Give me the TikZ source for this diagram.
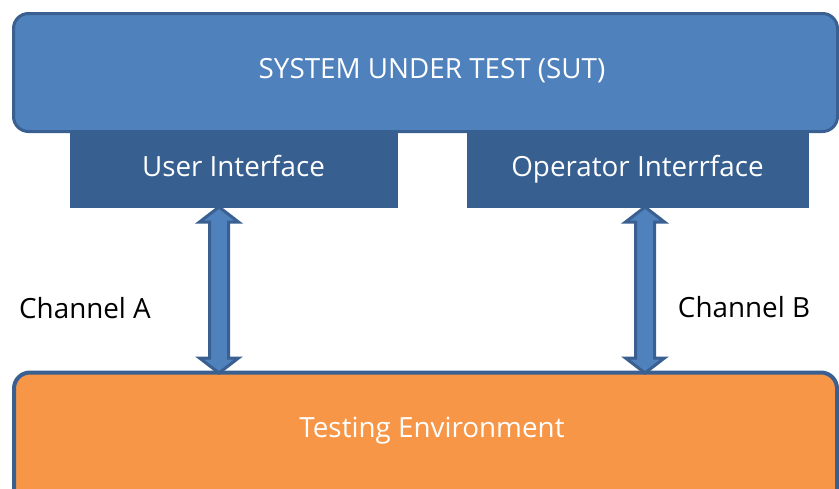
\documentclass[tikz,border=0pt]{standalone}
\usepackage{fontspec}
\setmainfont{Open Sans}
\usetikzlibrary{calc}
\definecolor{sutfill}{HTML}{4F81BD}
\definecolor{edgeblue}{HTML}{3A6091}
\definecolor{portfill}{HTML}{375F8F}
\definecolor{envfill}{HTML}{F79646}
\tikzset{
  sutbox/.style={draw=edgeblue, line width=3pt, fill=sutfill, rounded corners=15pt},
  envbox/.style={draw=edgeblue, line width=4pt, fill=envfill, rounded corners=16pt},
  portbox/.style={draw=portfill, line width=0.5pt, fill=portfill},
  boxtext/.style={text=white, font=\fontsize{27.8}{33}\selectfont, inner sep=0pt, anchor=base},
  plaintext/.style={text=black, font=\fontsize{27.8}{33}\selectfont, inner sep=0pt, anchor=base},
  chanarrow/.style={draw=edgeblue, line width=3pt, fill=sutfill, line join=miter},
}
% vertical double-headed block arrow between two named points
\newcommand{\chanlink}[2]{%
  \draw[chanarrow] (#1) -- ($(#1)+(19.5,15)$) -- ($(#1)+(9.5,15)$)
    -- ($(#2)+(9.5,-15)$) -- ($(#2)+(19.5,-15)$) -- (#2)
    -- ($(#2)+(-19.5,-15)$) -- ($(#2)+(-9.5,-15)$)
    -- ($(#1)+(-9.5,15)$) -- ($(#1)+(-19.5,15)$) -- cycle;}
\begin{document}
\begin{tikzpicture}[x=1pt,y=-1pt]
\useasboundingbox (0,0) rectangle (839,488);
\clip (0,0) rectangle (839,488);

% system under test
\draw[sutbox] (13.5,13.5) rectangle (837.5,131.5);
\node[boxtext] (sut) at (432,78) {SYSTEM UNDER TEST (SUT)};

% interfaces
\draw[portbox] (70,130) rectangle (397,207);
\node[boxtext] (ui) at (233.5,176) {User Interface};
\coordinate (uiB) at (219,207);
\draw[portbox] (467,130) rectangle (808,207);
\node[boxtext] (op) at (637.5,176) {Operator Interrface};
\coordinate (opB) at (645,207);

% testing environment
\draw[envbox] (14,372.5) rectangle (837,520);
\node[boxtext] (env) at (432,437) {Testing Environment};
\coordinate (envA) at (219,373);
\coordinate (envB) at (645,373);

% channels
\chanlink{uiB}{envA}
\chanlink{opB}{envB}
\node[plaintext] (chA) at (85,318) {Channel A};
\node[plaintext] (chB) at (744,317) {Channel B};
\end{tikzpicture}
\end{document}
